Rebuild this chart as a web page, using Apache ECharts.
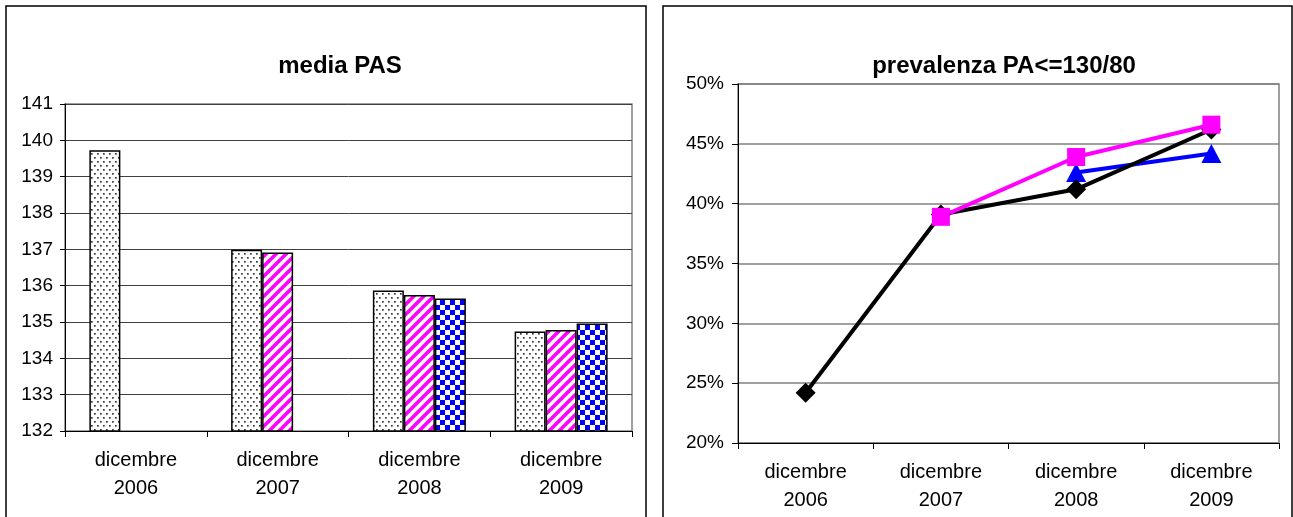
<!DOCTYPE html>
<html>
<head>
<meta charset="utf-8">
<title>media PAS / prevalenza PA&lt;=130/80</title>
<script src="https://cdn.jsdelivr.net/npm/echarts@6/dist/echarts.min.js"></script>
<style>
  html, body { margin: 0; padding: 0; background: #fff; }
  #chart { width: 1293px; height: 517px; }
</style>
</head>
<body>
<div id="chart"></div>
<script>
// Periods shown on both horizontal axes
const categories = ['dicembre\n2006', 'dicembre\n2007', 'dicembre\n2008', 'dicembre\n2009'];

// media PAS (mmHg) – three cohorts, later cohorts start later
const pasCohortA = [139.73, 136.99, 135.87, 134.74];
const pasCohortB = [null, 136.91, 135.74, 134.78];
const pasCohortC = [null, null, 135.65, 134.96];

// prevalenza PA<=130/80 (%)
const prevBlack = [24.2, 39.1, 41.2, 46.2];
const prevPink = [null, 38.9, 43.9, 46.6];
const prevBlue = [null, null, 42.6, 44.2];

// Axis ranges
const pasAxis = { min: 132, max: 141, step: 1 };
const prevAxis = { min: 20, max: 50, step: 5 };

// Fill patterns for the bars
function tile(w, h, draw) {
  const c = document.createElement('canvas');
  c.width = w; c.height = h;
  const ctx = c.getContext('2d');
  ctx.fillStyle = '#fff';
  ctx.fillRect(0, 0, w, h);
  draw(ctx, w, h);
  return c;
}
const dotTile = tile(6, 8, (ctx) => {
  ctx.fillStyle = '#3a3a3a';
  [[1, 1], [4, 5]].forEach(([x, y]) => { ctx.fillRect(x, y, 1.7, 1.7); });
});
const stripeTile = tile(10, 10, (ctx, s) => {
  ctx.strokeStyle = '#ff00ff';
  ctx.lineWidth = 3.6;
  for (let k = -1; k <= 1; k++) {
    ctx.beginPath();
    ctx.moveTo(k * s - 2, s + 2);
    ctx.lineTo(k * s + s + 2, -2);
    ctx.stroke();
  }
});
const checkTile = tile(10, 10, (ctx) => {
  ctx.fillStyle = '#0000ff';
  ctx.fillRect(0, 0, 5, 5);
  ctx.fillRect(5, 5, 5, 5);
});

const font = "'Liberation Sans', Arial, sans-serif";
const chart = echarts.init(document.getElementById('chart'), null, { renderer: 'canvas' });

const catAxisCommon = {
  type: 'category',
  data: categories,
  boundaryGap: true,
  axisLine: { lineStyle: { color: '#000', width: 1 } },
  axisTick: { show: true, length: 6, lineStyle: { color: '#000', width: 1 } },
  axisLabel: { color: '#000', fontSize: 20, fontFamily: font, lineHeight: 28, margin: 15, interval: 0 }
};

const barStyle = (pattern) => ({
  color: { image: pattern, repeat: 'repeat' },
  borderColor: '#000',
  borderWidth: 1.5
});

const option = {
  animation: false,
  backgroundColor: '#fff',
  textStyle: { fontFamily: font },
  title: [
    {
      text: 'media PAS', left: 340, top: 54, textAlign: 'center', padding: 0,
      textStyle: { fontSize: 24, fontWeight: 'bold', color: '#000', fontFamily: font }
    },
    {
      text: 'prevalenza PA<=130/80', left: 1004, top: 54, textAlign: 'center', padding: 0,
      textStyle: { fontSize: 24, fontWeight: 'bold', color: '#000', fontFamily: font }
    }
  ],
  graphic: [
    { type: 'rect', shape: { x: 6, y: 6, width: 640, height: 530 }, style: { fill: 'none', stroke: '#000', lineWidth: 1.5 }, z: 100 },
    { type: 'rect', shape: { x: 663, y: 6, width: 629, height: 530 }, style: { fill: 'none', stroke: '#000', lineWidth: 1.5 }, z: 100 }
  ],
  grid: [
    { left: 65, top: 104, width: 567, height: 327, show: true, borderColor: '#808080', borderWidth: 1.5, backgroundColor: 'transparent' },
    { left: 738, top: 84, width: 541, height: 359, show: true, borderColor: '#808080', borderWidth: 1.5, backgroundColor: 'transparent' }
  ],
  xAxis: [
    Object.assign({ gridIndex: 0 }, catAxisCommon),
    Object.assign({ gridIndex: 1 }, catAxisCommon)
  ],
  yAxis: [
    {
      gridIndex: 0, type: 'value', min: pasAxis.min, max: pasAxis.max, interval: pasAxis.step,
      axisLine: { show: true, lineStyle: { color: '#000', width: 1 } },
      axisTick: { show: true, length: 5, lineStyle: { color: '#000' } },
      axisLabel: { color: '#000', fontSize: 19, fontFamily: font, margin: 12 },
      splitLine: { show: true, lineStyle: { color: '#404040', width: 1 } }
    },
    {
      gridIndex: 1, type: 'value', min: prevAxis.min, max: prevAxis.max, interval: prevAxis.step,
      axisLine: { show: true, lineStyle: { color: '#000', width: 1 } },
      axisTick: { show: true, length: 6, lineStyle: { color: '#000' } },
      axisLabel: { color: '#000', fontSize: 19, fontFamily: font, margin: 14, formatter: '{value}%' },
      splitLine: { show: true, lineStyle: { color: '#808080', width: 1.5 } }
    }
  ],
  series: [
    { type: 'bar', xAxisIndex: 0, yAxisIndex: 0, data: pasCohortA, barWidth: 31, barGap: '0%', itemStyle: barStyle(dotTile) },
    { type: 'bar', xAxisIndex: 0, yAxisIndex: 0, data: pasCohortB, barWidth: 31, barGap: '0%', itemStyle: barStyle(stripeTile) },
    { type: 'bar', xAxisIndex: 0, yAxisIndex: 0, data: pasCohortC, barWidth: 31, barGap: '0%', itemStyle: barStyle(checkTile) },
    {
      type: 'line', xAxisIndex: 1, yAxisIndex: 1, data: prevBlue,
      symbol: 'triangle', symbolSize: [20, 19],
      lineStyle: { color: '#0000ff', width: 4 }, itemStyle: { color: '#0000ff' }
    },
    {
      type: 'line', xAxisIndex: 1, yAxisIndex: 1, data: prevBlack,
      symbol: 'diamond', symbolSize: [20, 20],
      lineStyle: { color: '#000', width: 4 }, itemStyle: { color: '#000' }
    },
    {
      type: 'line', xAxisIndex: 1, yAxisIndex: 1, data: prevPink,
      symbol: 'rect', symbolSize: 18,
      lineStyle: { color: '#ff00ff', width: 4 }, itemStyle: { color: '#ff00ff' }
    }
  ]
};

chart.setOption(option);
</script>
</body>
</html>
